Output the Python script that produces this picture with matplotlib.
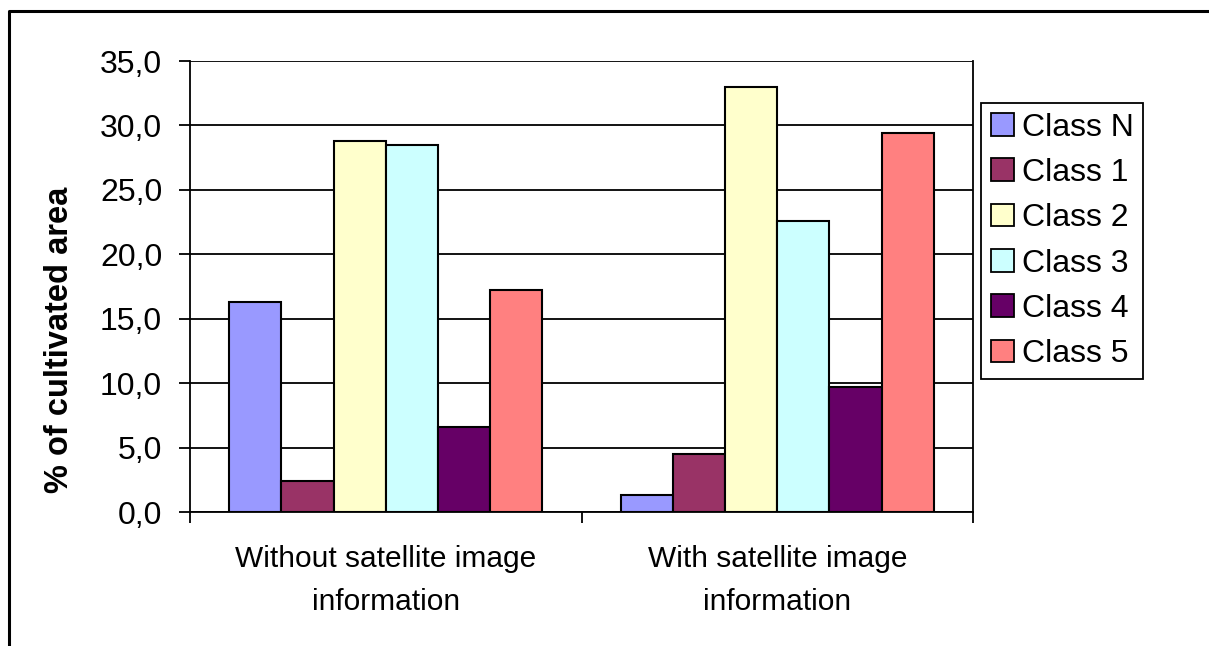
import numpy as np
import matplotlib.pyplot as plt
from matplotlib.lines import Line2D
from matplotlib.ticker import FuncFormatter

plt.rcParams['font.family'] = ['Liberation Sans', 'DejaVu Sans']

groups = ['Without satellite image\ninformation', 'With satellite image\ninformation']
classes = ['Class N', 'Class 1', 'Class 2', 'Class 3', 'Class 4', 'Class 5']
colors = ['#9999FF', '#993366', '#FFFFCC', '#CCFFFF', '#660066', '#FF8080']
without_sat = [16.3, 2.4, 28.8, 28.5, 6.6, 17.2]
with_sat = [1.3, 4.5, 33.0, 22.6, 9.7, 29.4]

fig = plt.figure(figsize=(12.09, 6.46), dpi=100)
ax = fig.add_axes([190/1209, 1-512/646, (973-190)/1209, (512-61)/646])

# excel style: gap width 150% -> 6 bars + 1.5 gap per category
w = 1/7.5
x = np.arange(len(groups))
for i, c in enumerate(classes):
    vals = [without_sat[i], with_sat[i]]
    ax.bar(x - 3*w + (i+0.5)*w, vals, width=w, color=colors[i],
           edgecolor='black', linewidth=1.5, label=c, zorder=3)

ax.set_xlim(-0.5, 1.5)
ax.set_ylim(0, 35)
ax.set_yticks(np.arange(0, 36, 5))
ax.yaxis.set_major_formatter(FuncFormatter(lambda v, p: ('%.1f' % v).replace('.', ',')))
ax.grid(axis='y', color='black', linewidth=1.3, zorder=0)

# category ticks at boundaries, labels centered
ax.set_xticks([-0.5, 0.5, 1.5])
ax.set_xticklabels([])
ax.set_xticks(x, minor=True)
ax.set_xticklabels(groups, minor=True, fontsize=21.5, linespacing=1.65)
ax.tick_params(axis='x', which='minor', length=0, pad=24)
ax.tick_params(axis='x', which='major', length=8, width=1.3, direction='out')
ax.tick_params(axis='y', length=8, width=1.3, labelsize=23, pad=12)

for s in ax.spines.values():
    s.set_linewidth(1.3)
ax.spines['top'].set_visible(False)

# y title sits a bit low in the original chart
fig.text(60/1209, 1-340/646, '% of cultivated area', rotation=90, ha='center',
         va='center', fontsize=23.5, fontweight='bold')

leg = ax.legend(loc='upper left', bbox_to_anchor=(981/1209, 1-103/646),
                bbox_transform=fig.transFigure, fontsize=23, frameon=True,
                fancybox=False, edgecolor='black', framealpha=1,
                handlelength=0.72, handleheight=0.72, handletextpad=0.25,
                labelspacing=0.48, borderpad=0.3, borderaxespad=0)
leg.get_frame().set_linewidth(1.3)
for h in leg.legend_handles:
    h.set_linewidth(1.3)

# outer chart frame (top and left visible)
fig.add_artist(Line2D([8.5/1209, 8.5/1209, 1.0], [0.0, 1-11/646, 1-11/646],
                      transform=fig.transFigure, color='black', linewidth=2.2))

fig.savefig('out.png', dpi=100)
